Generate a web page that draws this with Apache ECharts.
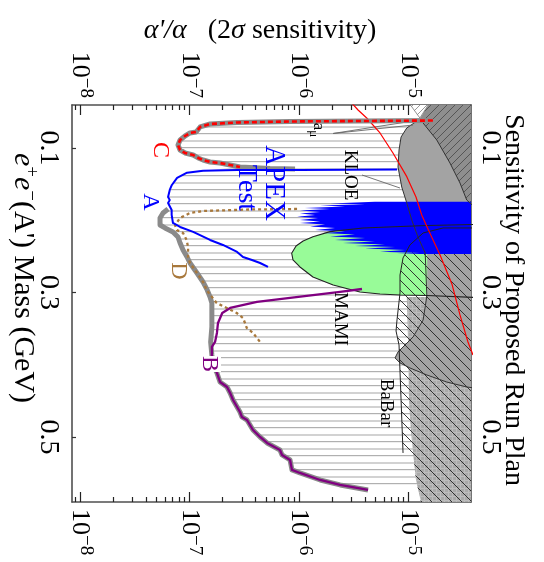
<!DOCTYPE html>
<html><head><meta charset="utf-8">
<script src="https://cdn.jsdelivr.net/npm/echarts@6/dist/echarts.min.js"></script>
<style>html,body{margin:0;padding:0;background:#fff}#c{width:544px;height:562px}</style>
</head><body><div id="c"></div>
<script>
// ---------------- data (alpha'/alpha vs e+e- mass in GeV) ----------------
const majorTicks = [1e-8, 1e-7, 1e-6, 1e-5];
const minorTicks = [9e-9, 2e-8, 3e-8, 4e-8, 5e-8, 6e-8, 7e-8, 8e-8, 9e-8,
  2e-7, 3e-7, 4e-7, 5e-7, 6e-7, 7e-7, 8e-7, 9e-7,
  2e-6, 3e-6, 4e-6, 5e-6, 6e-6, 7e-6, 8e-6, 9e-6, 2e-5, 3e-5];
const massTicks = [0.1, 0.3, 0.5];

// Curve C (red dashed over grey)
const cAlpha = [1.67e-5, 8.28e-7, 2.72e-7, 1.54e-7, 1.25e-7, 1.15e-7, 1.01e-7, 9.1e-8, 8.2e-8, 7.85e-8, 8.2e-8, 9.1e-8, 1.08e-7, 1.2e-7, 1.33e-7, 1.54e-7, 1.9e-7, 2.35e-7, 2.89e-7];
const cMass  = [0.062, 0.0633, 0.0647, 0.0668, 0.0709, 0.0779, 0.0792, 0.0834, 0.0889, 0.0958, 0.1028, 0.1069, 0.1097, 0.1138, 0.1166, 0.1194, 0.1208, 0.1235, 0.1263];
const cTailAlpha = [5.43e-7, 9.2e-7];
const cTailMass  = [0.1284, 0.1291];
// Curve A (blue)
const aAlpha = [7.85e-6, 1.02e-6, 2.72e-7, 1.33e-7, 9.5e-8, 7.7e-8, 6.9e-8, 6.6e-8, 6.37e-8, 6.6e-8, 6.37e-8, 6.87e-8, 6.87e-8, 7.06e-8, 8.2e-8, 1.08e-7, 1.54e-7, 2.02e-7, 2.72e-7, 3.08e-7, 3.72e-7, 4.41e-7, 5.21e-7];
const aMass  = [0.1298, 0.1304, 0.1304, 0.1314, 0.1342, 0.1415, 0.1512, 0.1581, 0.1678, 0.1720, 0.1761, 0.1858, 0.1927, 0.2038, 0.2093, 0.2162, 0.2273, 0.2342, 0.2439, 0.2509, 0.2550, 0.2592, 0.2647];
// Grey combined envelope
const envAlpha = [6.37e-8, 5.73e-8, 5.38e-8, 5.38e-8, 5.97e-8, 7.06e-8, 7.85e-8, 8.2e-8, 8.73e-8, 9.5e-8, 1.01e-7, 1.17e-7, 1.33e-7, 1.45e-7, 1.54e-7, 1.6e-7, 1.6e-7, 1.6e-7, 1.56e-7, 1.6e-7];
const envMass  = [0.1844, 0.1900, 0.1969, 0.2066, 0.2107, 0.2162, 0.2232, 0.2315, 0.2412, 0.2509, 0.2592, 0.2730, 0.2855, 0.2965, 0.3062, 0.3145, 0.3284, 0.3477, 0.3685, 0.3865];
// Curve B (purple)
const bAlpha = [3.76e-6, 2.37e-6, 8.28e-7, 4.13e-7, 2.35e-7, 1.99e-7, 1.82e-7, 1.78e-7, 1.71e-7, 1.6e-7, 1.6e-7, 1.64e-7, 1.78e-7, 1.9e-7, 2.2e-7, 2.35e-7, 2.5e-7, 2.72e-7, 2.89e-7, 3.01e-7, 3.35e-7, 3.8e-7, 4.41e-7, 5.11e-7, 6.7e-7, 7.0e-7, 8.28e-7, 8.63e-7, 1.02e-6, 1.56e-6, 2.37e-6, 4.27e-6];
const bMass  = [0.2952, 0.2993, 0.3076, 0.3131, 0.3214, 0.3284, 0.3422, 0.3560, 0.3685, 0.3754, 0.3879, 0.4003, 0.4114, 0.4239, 0.4308, 0.4391, 0.4488, 0.4585, 0.4654, 0.4723, 0.4765, 0.4903, 0.5000, 0.5083, 0.5180, 0.5249, 0.5318, 0.5456, 0.5498, 0.5595, 0.5664, 0.5733];
// Curve D (brown dotted)
const dAlpha = [9.6e-7, 3.57e-7, 1.33e-7, 1.01e-7, 8.2e-8, 7.37e-8, 7.64e-8, 8.73e-8, 9.4e-8, 9.7e-8, 9.7e-8, 1.01e-7, 1.17e-7, 1.33e-7, 1.45e-7, 1.77e-7, 2.19e-7, 2.7e-7, 3.08e-7, 3.21e-7, 3.33e-7, 3.8e-7, 4.41e-7];
const dMass  = [0.1844, 0.1851, 0.1872, 0.1900, 0.1969, 0.2066, 0.2135, 0.2176, 0.2273, 0.2370, 0.2509, 0.2592, 0.2730, 0.2855, 0.2979, 0.3145, 0.3214, 0.3284, 0.3353, 0.3422, 0.3491, 0.3560, 0.3685];
// APEX test run (blue filled)
const blueAlpha = [4e-5, 4.94e-6, 1.92e-6, 4.01e-6, 1.56e-6, 2.63e-6, 1.13e-6, 1.92e-6, 1.02e-6, 1.56e-6, 1.02e-6, 1.40e-6, 9.6e-7, 1.49e-6, 1.02e-6, 1.56e-6, 1.02e-6, 1.73e-6, 1.26e-6, 2.13e-6, 1.40e-6, 2.63e-6, 1.66e-6, 3.24e-6, 1.92e-6, 4.01e-6, 2.13e-6, 4.94e-6, 2.52e-6, 6.1e-6, 3.24e-6, 7.53e-6, 4.01e-6, 9.29e-6, 5.49e-6, 1.27e-5, 7.85e-6, 4e-5];
const blueMass  = [0.1743, 0.1743, 0.1768, 0.1778, 0.1796, 0.1810, 0.1830, 0.1844, 0.1865, 0.1886, 0.1907, 0.1927, 0.1951, 0.1969, 0.1996, 0.2017, 0.2038, 0.2059, 0.2086, 0.2107, 0.2135, 0.2156, 0.2176, 0.2197, 0.2225, 0.2246, 0.2273, 0.2294, 0.2315, 0.2336, 0.2356, 0.2370, 0.2391, 0.2412, 0.2435, 0.2453, 0.2467, 0.2467];
// Green region
const greenAlpha = [8.57e-7, 9.39e-7, 1.09e-6, 1.34e-6, 1.92e-6, 3.84e-6, 1.10e-5, 1.48e-5, 1.48e-5, 8.36e-6, 5.49e-6, 3.6e-6, 2.05e-6, 1.34e-6, 1.02e-6, 8.81e-7];
const greenMass  = [0.2457, 0.2356, 0.2287, 0.2228, 0.2158, 0.2107, 0.2080, 0.2073, 0.3041, 0.3034, 0.3021, 0.2993, 0.2896, 0.2785, 0.2647, 0.2550];
const greenEdgeAlpha = [4e-5, 4e-5];
const greenEdgeMass  = [0.2059, 0.3069];
// KLOE / existing-limit grey region
const kloeAlpha = [1.27e-5, 9.64e-6, 8.55e-6, 8.19e-6, 8.02e-6, 8.67e-6, 9.64e-6, 1.07e-5, 1.22e-5, 1.42e-5, 1.47e-5, 1.36e-5, 1.10e-5, 8.02e-6, 7.53e-6, 8.36e-6, 1.03e-5, 1.47e-5, 2.23e-5, 3.4e-5, 4e-5, 4e-5, 1.67e-5];
const kloeMass  = [0.0599, 0.0723, 0.0848, 0.1028, 0.1263, 0.1540, 0.1761, 0.1996, 0.2232, 0.2453, 0.3048, 0.3380, 0.3616, 0.3823, 0.3906, 0.3975, 0.4045, 0.4142, 0.4239, 0.4308, 0.4322, 0.03, 0.03];
// dark hatched region (top right)
const darkAlpha = [1.67e-5, 4e-5, 4e-5, 3.4e-5, 2.95e-5, 2.39e-5, 1.81e-5, 1.27e-5];
const darkMass  = [0.03, 0.03, 0.1817, 0.1720, 0.1484, 0.1208, 0.0889, 0.0599];
// a_mu triangle
const amuAlpha = [9.29e-6, 1.67e-5, 1.27e-5];
const amuMass  = [0.03, 0.03, 0.0585];
// light textured region (bottom right)
const texAlpha = [9.64e-6, 9.89e-6, 1.01e-5, 1.05e-5, 1.10e-5, 1.17e-5, 1.30e-5, 1.35e-5, 4e-5, 4e-5];
const texMass  = [0.3062, 0.3657, 0.4488, 0.4903, 0.5221, 0.5595, 0.5900, 0.6, 0.6, 0.3062];
// BaBar hatched region
const babarAlpha = [4e-5, 2.07e-5, 1.36e-5, 1.03e-5, 8.91e-6, 8.36e-6, 8.36e-6, 7.85e-6, 7.69e-6, 8.19e-6, 8.55e-6, 8.91e-6, 1.10e-5, 1.17e-5, 1.30e-5, 1.35e-5, 4e-5];
const babarMass  = [0.2107, 0.2107, 0.2176, 0.2342, 0.2522, 0.2758, 0.3007, 0.3380, 0.3533, 0.3726, 0.4488, 0.5221, 0.5221, 0.5595, 0.5900, 0.6, 0.6];
// red a_mu line
const redAlpha = [2.86e-6, 3.46e-6, 4.15e-6, 5.49e-6, 7.21e-6, 9.64e-6, 1.17e-5, 1.32e-5, 1.52e-5, 1.94e-5, 2.49e-5, 2.95e-5, 3.49e-5, 3.88e-5];
const redMass  = [0.0336, 0.0474, 0.0585, 0.0792, 0.1069, 0.1397, 0.1678, 0.1927, 0.2135, 0.2481, 0.2882, 0.3311, 0.3685, 0.3865];
// label pointer lines
const amuPtr1Alpha = [2.05e-6, 1.10e-5], amuPtr1Mass = [0.0799, 0.0682];
const amuPtr2Alpha = [2.05e-6, 1.27e-5], amuPtr2Mass = [0.0799, 0.0612];
const kloePtrAlpha = [3.76e-6, 8.36e-6], kloePtrMass = [0.1374, 0.1554];

// ---------------- chart ----------------
const X_MIN = 8.45e-9, X_MAX = 3.72e-5, Y_MIN = 0.0405, Y_MAX = 0.59, X_EXT = 4e-5;
const FONT = 'Liberation Serif';
const pairs = (xs, ys) => xs.map((x, i) => [x, ys[i]]);

function makePattern(w, h, bg, draw) {
  const c = document.createElement('canvas'); c.width = w; c.height = h;
  const g = c.getContext('2d');
  if (bg) { g.fillStyle = bg; g.fillRect(0, 0, w, h); }
  draw(g, w, h);
  return { image: c, repeat: 'repeat' };
}
function diag(s, bg, color, lw, dir) {
  return makePattern(s, s, bg, (g, w, h) => {
    g.strokeStyle = color; g.lineWidth = lw; g.beginPath();
    if (dir === '/') { g.moveTo(-1, h + 1); g.lineTo(w + 1, -1); g.moveTo(-1, 1); g.lineTo(1, -1); g.moveTo(w - 1, h + 1); g.lineTo(w + 1, h - 1); }
    else { g.moveTo(-1, -1); g.lineTo(w + 1, h + 1); g.moveTo(w - 1, -1); g.lineTo(w + 1, 1); g.moveTo(-1, h - 1); g.lineTo(1, h + 1); }
    g.stroke();
  });
}
const hLinePat = makePattern(8, 14, '#ffffff', (g, w) => { g.fillStyle = '#d2d2d2'; g.fillRect(0, 0, w, 2); g.fillStyle = '#b0b0b0'; g.fillRect(0, 7, w, 1.2); });
const texPat = makePattern(4, 4, '#a9a9a9', (g) => { g.fillStyle = '#bcbcbc'; g.fillRect(0, 0, 4, 1); g.fillRect(0, 0, 1, 4); });
const darkPat = diag(8, '#8e8e8e', '#555555', 1, '/');
const amuPat = diag(7, '#ffffff', '#999999', 1, '/');
const babarPat = diag(10, null, '#222222', 0.9, '\\');

let zc = 1;
function polygonSeries(pts, style) {
  return {
    type: 'custom', coordinateSystem: 'cartesian2d', xAxisIndex: 0, yAxisIndex: 0,
    data: pts, z: zc++, silent: true, clip: true, animation: false, encode: { x: 0, y: 1 },
    renderItem: function (params, api) {
      if (params.dataIndex !== 0) return null;
      return { type: 'polygon', shape: { points: pts.map(p => api.coord(p)) }, style: style };
    }
  };
}
function lineSeries(pts, lineStyle) {
  return { type: 'line', xAxisIndex: 0, yAxisIndex: 0, data: pts, showSymbol: false, symbol: 'none',
    lineStyle: Object.assign({ join: 'round', cap: 'butt' }, lineStyle), z: zc++, silent: true, animation: false, clip: true };
}

const hatchPts = [[X_EXT, cMass[0]]]
  .concat(pairs(cAlpha, cMass))
  .concat(pairs(aAlpha.slice(3, 11), aMass.slice(3, 11)))
  .concat(pairs(envAlpha, envMass))
  .concat(pairs(bAlpha.slice(10), bMass.slice(10)))
  .concat([[X_EXT, bMass[bMass.length - 1]]]);

const greenPts = pairs(greenAlpha, greenMass);
const greenOutline = [[greenEdgeAlpha[0], greenEdgeMass[0]]]
  .concat(greenPts.slice(0, 8).reverse())
  .concat(greenPts.slice(9).reverse())
  .concat([greenPts[8], [greenEdgeAlpha[1], greenEdgeMass[1]]]);

const series = [
  polygonSeries(hatchPts, { fill: hLinePat }),
  polygonSeries(pairs(texAlpha, texMass), { fill: texPat }),
  polygonSeries(pairs(kloeAlpha, kloeMass), { fill: '#a3a3a3' }),
  polygonSeries(pairs(darkAlpha, darkMass), { fill: darkPat }),
  polygonSeries(pairs(amuAlpha, amuMass), { fill: amuPat, stroke: '#777', lineWidth: 0.8 }),
  polygonSeries(greenPts, { fill: '#98fb98' }),
  polygonSeries(pairs(babarAlpha, babarMass), { fill: babarPat }),
  polygonSeries(pairs(blueAlpha, blueMass), { fill: '#0000ff' }),
  lineSeries(pairs(kloeAlpha.slice(0, 21), kloeMass.slice(0, 21)), { color: '#333', width: 1 }),
  lineSeries(pairs(darkAlpha.slice(2).reverse(), darkMass.slice(2).reverse()), { color: '#333', width: 1 }),
  lineSeries(greenOutline, { color: '#222', width: 1.1 }),
  lineSeries(pairs(babarAlpha.slice(0, 12), babarMass.slice(0, 12)), { color: '#222', width: 1 }),
  lineSeries(pairs(amuPtr1Alpha, amuPtr1Mass), { color: '#666', width: 0.9 }),
  lineSeries(pairs(amuPtr2Alpha, amuPtr2Mass), { color: '#666', width: 0.9 }),
  lineSeries(pairs(kloePtrAlpha, kloePtrMass), { color: '#666', width: 0.9 }),
  lineSeries(pairs(redAlpha, redMass), { color: '#ff0000', width: 1.2 }),
  lineSeries(pairs(cAlpha, cMass).concat(pairs(cTailAlpha, cTailMass)), { color: '#8a8a8a', width: 5 }),
  lineSeries(pairs(envAlpha, envMass).concat(pairs(bAlpha.slice(10), bMass.slice(10))), { color: '#8a8a8a', width: 5 }),
  lineSeries(pairs(dAlpha, dMass), { color: '#a8783c', width: 2.3, type: [3, 3] }),
  lineSeries(pairs(aAlpha, aMass), { color: '#0000ff', width: 2 }),
  lineSeries(pairs(bAlpha, bMass), { color: '#800080', width: 2.3 }),
  lineSeries(pairs(cAlpha, cMass), { color: '#ff0000', width: 2.6, type: [5, 3] })
];

const axisLineStyle = { color: '#505050', width: 1.6 };
const powFmt = v => '{b|10}{s|−' + Math.abs(Math.round(Math.log10(v))) + '}';
const powRich = { b: { fontFamily: FONT, fontSize: 26, lineHeight: 30, color: '#000' }, s: { fontFamily: FONT, fontSize: 19, lineHeight: 19, verticalAlign: 'top', color: '#000' } };
function xAx(pos, major) {
  return {
    type: 'log', logBase: 10, min: X_MIN, max: X_MAX, position: pos,
    axisLine: { show: major, onZero: false, lineStyle: axisLineStyle },
    axisTick: { show: true, inside: true, length: major ? 10 : 5, customValues: major ? majorTicks : minorTicks, lineStyle: { color: '#222', width: 1.2 } },
    axisLabel: major ? { show: true, customValues: majorTicks, rotate: pos === 'top' ? 90 : -90, margin: 7, formatter: powFmt, rich: powRich } : { show: false },
    splitLine: { show: false }, minorTick: { show: false }, minorSplitLine: { show: false }
  };
}
function yAx(pos) {
  return {
    type: 'value', inverse: true, min: Y_MIN, max: Y_MAX, position: pos,
    axisLine: { show: true, onZero: false, lineStyle: axisLineStyle },
    axisTick: { show: true, inside: true, length: 4, customValues: massTicks, lineStyle: { color: '#333', width: 1.2 } },
    axisLabel: { show: true, customValues: massTicks, rotate: -90, margin: pos === 'left' ? 10 : 5, fontFamily: FONT, fontSize: 28, color: '#000', formatter: v => v.toFixed(1) },
    splitLine: { show: false }
  };
}

function vtext(x, y, text, color, size, extra) {
  return Object.assign({ type: 'text', x: x, y: y, rotation: -Math.PI / 2, silent: true, z: 200,
    style: { text: text, fill: color, fontFamily: FONT, fontSize: size, font: size + 'px "' + FONT + '"',
      align: 'center', verticalAlign: 'middle', textAlign: 'center', textVerticalAlign: 'middle' } }, extra || {});
}
const tok = (size, extra) => Object.assign({ fontFamily: FONT, fontSize: size, fill: '#000', color: '#000' }, extra || {});

const graphics = [
  { type: 'text', x: 260, y: 31, silent: true, z: 200,
    style: { text: "{i|α'/α}{n|   (2}{i|σ}{n| sensitivity)}", align: 'center', verticalAlign: 'middle', textAlign: 'center', textVerticalAlign: 'middle',
      fontFamily: FONT, fontSize: 28, rich: { i: tok(28, { fontStyle: 'italic' }), n: tok(28) } } },
  vtext(23, 278, "{i|e}{s|+}{i|e}{s|−}{n|(A') Mass (GeV)}", '#000', 30),
  vtext(513, 300, 'Sensitivity of Proposed Run Plan', '#000', 28),
  vtext(160, 150, 'C', '#ff0000', 24),
  vtext(150, 202, 'A', '#0000ff', 24),
  vtext(178, 271, 'D', '#a8783c', 24),
  vtext(209, 364, 'B', '#800080', 24),
  vtext(274, 183, 'APEX', '#0000ff', 29),
  vtext(246, 188, 'Test', '#0000ff', 28),
  vtext(350, 175, 'KLOE', '#000', 19),
  vtext(318, 130, '{a|a}{u|μ}', '#000', 17),
  vtext(340, 319, 'MAMI', '#000', 19),
  vtext(386, 403, 'BaBar', '#000', 19)
];
graphics[1].style.rich = { i: tok(30, { fontStyle: 'italic', lineHeight: 34 }), s: tok(19, { lineHeight: 19, verticalAlign: 'top' }), n: tok(30, { lineHeight: 34 }) };
graphics[6].style.backgroundColor = '#fff';
graphics[10].style.rich = { a: tok(17, { lineHeight: 22 }), u: tok(13, { lineHeight: 13, verticalAlign: 'bottom' }) };

const chart = echarts.init(document.getElementById('c'), null, { renderer: 'canvas' });
chart.setOption({
  animation: false,
  backgroundColor: '#ffffff',
  grid: { left: 72, right: 73, top: 105, bottom: 60, containLabel: false, outerBoundsMode: 'none' },
  xAxis: [xAx('top', true), xAx('bottom', true), xAx('top', false), xAx('bottom', false)],
  yAxis: [yAx('left'), yAx('right')],
  series: series,
  graphic: graphics
});
</script></body></html>
